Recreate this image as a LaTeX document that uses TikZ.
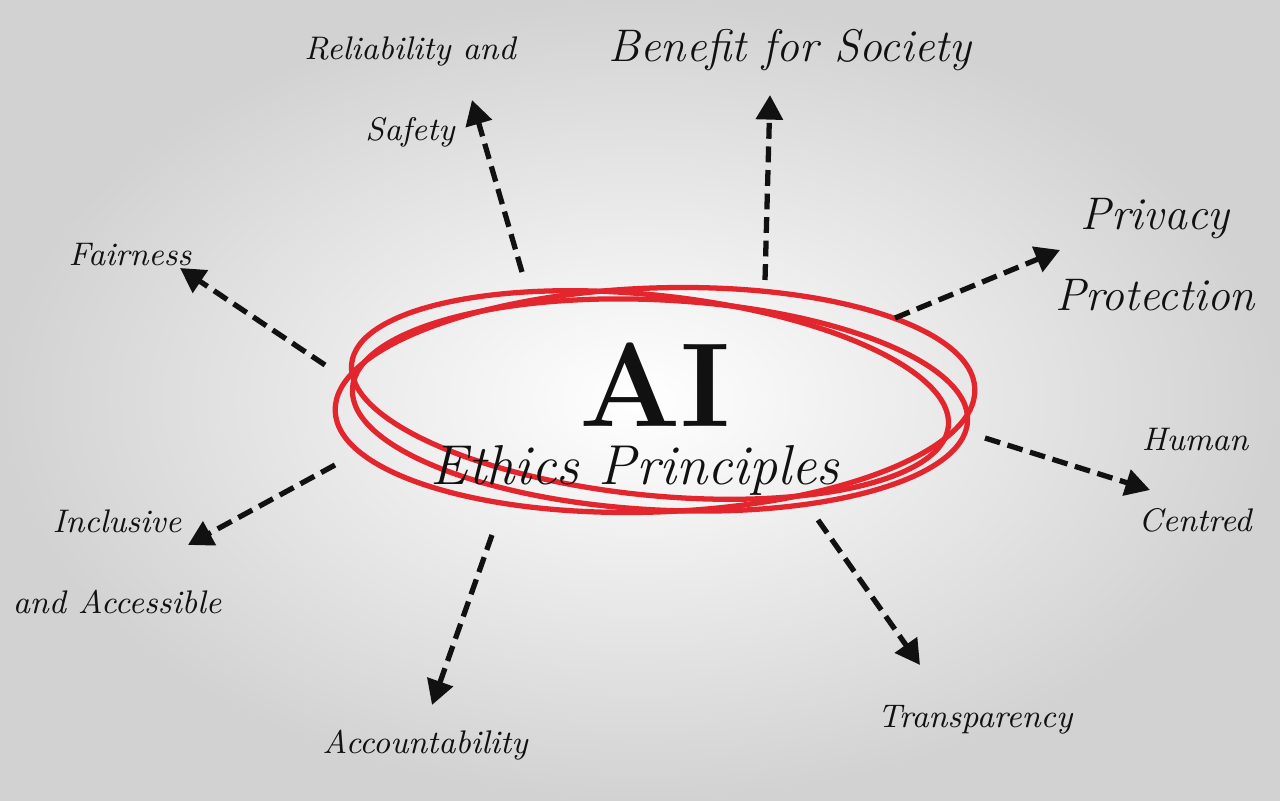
\documentclass[tikz,border=0pt]{standalone}
\usepackage{tikz}
\usetikzlibrary{arrows.meta,positioning,calc}
\definecolor{ringred}{HTML}{E3262E}
\definecolor{ink}{HTML}{111111}
\definecolor{bgedge}{HTML}{D2D2D2}
\tikzset{
  lbl/.style={align=center, text=ink, inner sep=1pt,
    font=\itshape\fontsize{9.3}{23}\selectfont},
  biglbl/.style={lbl, font=\itshape\fontsize{13}{23}\selectfont},
  arr/.style={-{Triangle[length=7pt,width=7.5pt]}, line width=1.5pt, draw=ink,
    dash pattern=on 4.5pt off 2.2pt},
  ring/.style={draw=ringred, line width=1.5pt}
}
\begin{document}
\begin{tikzpicture}
    \useasboundingbox (0,0) rectangle (12.8,8);
    \shade[inner color=white, outer color=bgedge] (0,0) rectangle (12.8,8);
    % red scribbled ring
    \draw[ring, rotate around={2:(6.55,4.0)}] (6.55,4.0) ellipse (3.2 and 1.12);
    \draw[ring, rotate around={-3:(6.6,3.95)}] (6.6,3.95) ellipse (3.08 and 1.05);
    \draw[ring, rotate around={-6:(6.5,4.05)}] (6.5,4.05) ellipse (3.0 and 1.0);
    % centre
    \node[text=ink, inner sep=0pt, font=\bfseries\fontsize{34}{34}\selectfont] (ai) at (6.55,4.15) {AI};
    \node[lbl, inner sep=0pt, font=\itshape\fontsize{16}{16}\selectfont] (ethics) at (6.35,3.3) {Ethics Principles};
    % principles
    \node[lbl] (rel) at (4.1,7.08) {Reliability and\\Safety};
    \node[biglbl, font=\itshape\fontsize{13}{13}\selectfont] (ben) at (7.9,7.5) {Benefit for Society};
    \node[biglbl] (priv) at (11.55,5.45) {Privacy\\Protection};
    \node[lbl] (hum) at (11.95,3.2) {Human\\Centred};
    \node[lbl] (trans) at (9.75,0.8) {Transparency};
    \node[lbl] (acc) at (4.25,0.55) {Accountability};
    \node[lbl] (incl) at (1.17,2.38) {Inclusive\\and Accessible};
    \node[lbl] (fair) at (1.3,5.45) {Fairness};
    % arrow ends
    \coordinate (relS) at (5.22,5.28);   \coordinate (relT) at (4.72,7.0);
    \coordinate (benS) at (7.65,5.2);    \coordinate (benT) at (7.7,7.05);
    \coordinate (privS) at (8.95,4.82);  \coordinate (privT) at (10.6,5.5);
    \coordinate (humS) at (9.85,3.62);   \coordinate (humT) at (11.5,3.1);
    \coordinate (transS) at (8.18,2.8);  \coordinate (transT) at (9.2,1.35);
    \coordinate (accS) at (4.92,2.65);   \coordinate (accT) at (4.32,0.95);
    \coordinate (inclS) at (3.35,3.35);  \coordinate (inclT) at (1.88,2.55);
    \coordinate (fairS) at (3.25,4.35);  \coordinate (fairT) at (1.8,5.32);
    \foreach \k in {rel,ben,priv,hum,trans,acc,incl,fair}
      \draw[arr] (\k S) -- (\k T);
  \end{tikzpicture}
\end{document}
